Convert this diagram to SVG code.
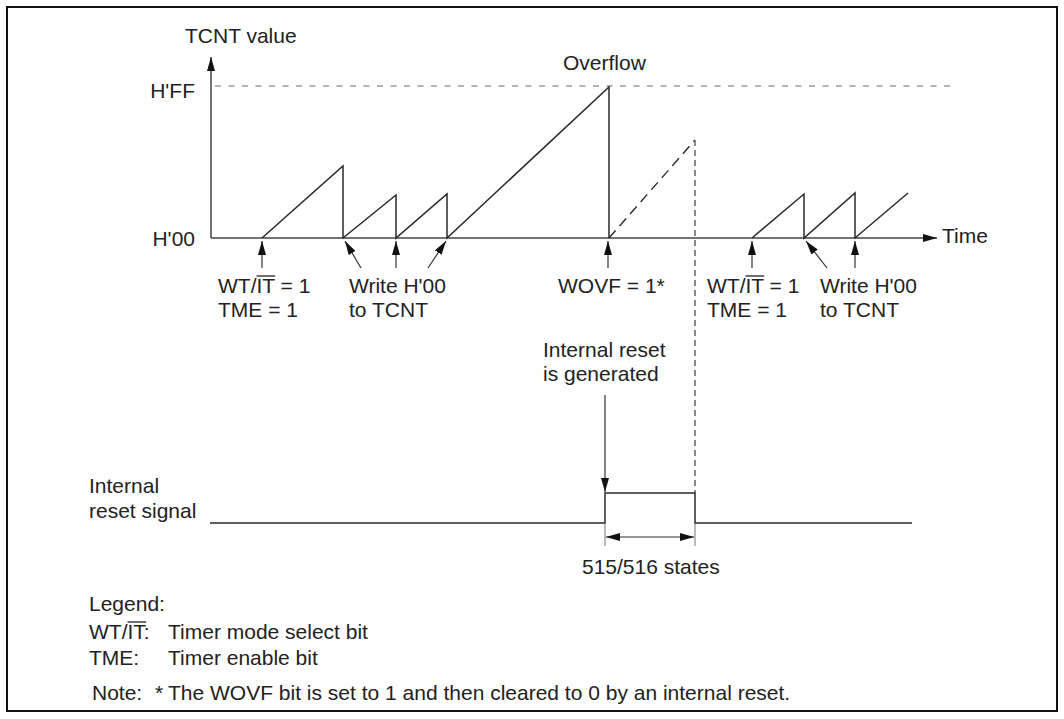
<svg xmlns="http://www.w3.org/2000/svg" width="1064" height="719" viewBox="0 0 1064 719">
<style>
text{font-family:"Liberation Sans",Arial,sans-serif;font-size:21px;fill:#222}
.ln{stroke:#2a2a2a;stroke-width:1.5;fill:none}
.ax{stroke:#444;stroke-width:1.5;fill:none}
.dash{stroke:#666;stroke-width:1.2;fill:none;stroke-dasharray:6 7.5}
.dd{stroke:#2a2a2a;stroke-width:1.4;fill:none;stroke-dasharray:10 6}
.vd{stroke:#666;stroke-width:1.5;fill:none;stroke-dasharray:6 4}
.arr{stroke:#333;stroke-width:1.2;fill:none;marker-end:url(#ah)}
.ol{stroke:#222;stroke-width:1.3}
</style>
<defs>
<marker id="ah" markerUnits="userSpaceOnUse" markerWidth="14" markerHeight="8" refX="14" refY="4" orient="auto-start-reverse" viewBox="0 0 14 8"><path d="M0,0 L14,4 L0,8 z" fill="#111"/></marker>
</defs>
<rect x="7" y="7" width="1050" height="704" fill="#fff" stroke="#111" stroke-width="2"/>
<g id="axes">
<line class="ax" x1="211" y1="238" x2="211" y2="57" marker-end="url(#ah)"/>
<line class="ax" x1="211" y1="238" x2="937" y2="238" marker-end="url(#ah)"/>
<line class="dash" x1="215" y1="86" x2="955" y2="86"/>
<text x="185" y="43">TCNT value</text>
<text x="195" y="98" text-anchor="end">H'FF</text>
<text x="195" y="246" text-anchor="end">H'00</text>
<text x="942" y="243">Time</text>
<text x="563" y="70">Overflow</text>
</g>
<g id="tcnt-waveform">
<polyline class="ln" points="262,238 343,166 343,238 396,195 396,238 447,194 447,238 609,87 609,238"/>
<line class="dd" x1="609" y1="238" x2="695" y2="140"/>
<line class="vd" x1="695" y1="140" x2="695" y2="493"/>
<polyline class="ln" points="752,238 804,194 804,238 855,193 855,238 908,193"/>
</g>
<g id="connectors">
<line class="arr" x1="262" y1="268" x2="262" y2="241"/>
<line class="arr" x1="361" y1="268" x2="345" y2="241"/>
<line class="arr" x1="396" y1="268" x2="396" y2="241"/>
<line class="arr" x1="428" y1="268" x2="446" y2="241"/>
<line class="arr" x1="608" y1="268" x2="608" y2="241"/>
<line class="arr" x1="752" y1="268" x2="752" y2="241"/>
<line class="arr" x1="827" y1="268" x2="806" y2="241"/>
<line class="arr" x1="855" y1="268" x2="855" y2="241"/>
<line class="arr" x1="605" y1="395" x2="605" y2="492"/>
<line x1="605" y1="524" x2="605" y2="546" stroke="#777" stroke-width="1"/>
<line x1="695" y1="524" x2="695" y2="546" stroke="#777" stroke-width="1"/>
<line x1="606" y1="537" x2="694" y2="537" stroke="#333" stroke-width="1.2" marker-start="url(#ah)" marker-end="url(#ah)"/>
</g>
<g id="label-wtit-left">
<text x="218" y="293">WT/IT = 1</text>
<line class="ol" x1="256.5" y1="276" x2="275.2" y2="276"/>
<text x="218" y="317">TME = 1</text>
</g>
<g id="label-write-left">
<text x="349" y="293">Write H'00</text>
<text x="349" y="317">to TCNT</text>
</g>
<g id="label-wovf">
<text x="558" y="293">WOVF = 1*</text>
</g>
<g id="label-wtit-right">
<text x="707" y="293">WT/IT = 1</text>
<line class="ol" x1="745.5" y1="276" x2="764.2" y2="276"/>
<text x="707" y="317">TME = 1</text>
</g>
<g id="label-write-right">
<text x="820" y="293">Write H'00</text>
<text x="820" y="317">to TCNT</text>
</g>
<g id="label-reset-generated">
<text x="543" y="357">Internal reset</text>
<text x="543" y="381">is generated</text>
</g>
<g id="reset-signal">
<text x="89" y="493">Internal</text>
<text x="89" y="518">reset signal</text>
<polyline class="ln" points="210,523 605,523 605,493 695,493 695,523 912,523"/>
<text x="582" y="574">515/516 states</text>
</g>
<g id="legend">
<text x="89" y="611">Legend:</text>
<text x="89" y="639">WT/IT:</text>
<line class="ol" x1="127.5" y1="622" x2="146.2" y2="622"/>
<text x="168" y="639">Timer mode select bit</text>
<text x="89" y="665">TME:</text>
<text x="168" y="665">Timer enable bit</text>
<text x="92" y="700">Note:</text>
<text x="155" y="700">*</text>
<text x="168" y="700">The WOVF bit is set to 1 and then cleared to 0 by an internal reset.</text>
</g>
</svg>
